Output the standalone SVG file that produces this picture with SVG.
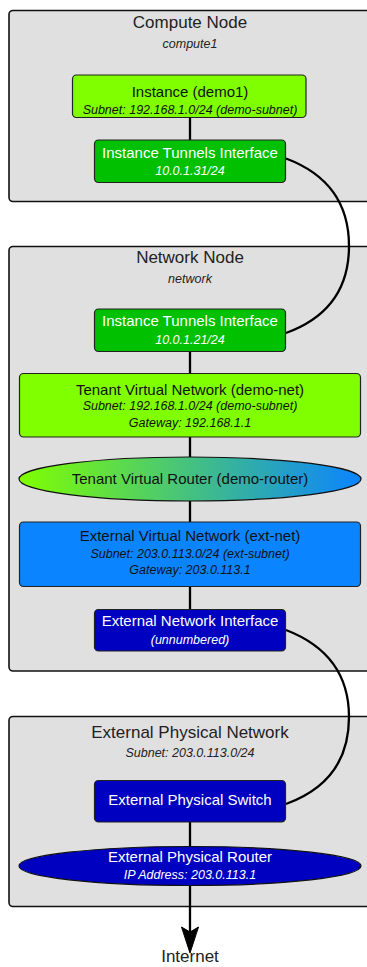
<svg xmlns="http://www.w3.org/2000/svg" width="367" height="967" viewBox="0 0 367 967">
  <defs>
    <linearGradient id="routerGrad" x1="0" y1="0" x2="1" y2="0">
      <stop offset="0" stop-color="#7fff00"/>
      <stop offset="1" stop-color="#0a84ff"/>
    </linearGradient>
    <style>
      .cluster { fill: #e0e0e0; stroke: #111; stroke-width: 1.6; }
      .box { stroke: #222; stroke-width: 1.2; }
      .lime { fill: #7fff00; }
      .green { fill: #00c000; }
      .sky { fill: #0a84ff; }
      .navy { fill: #0000c0; }
      .edge { fill: none; stroke: #000; stroke-width: 2.3; }
      text { font-family: "Liberation Sans", Arial, sans-serif; text-anchor: middle; }
      .title { font-size: 17px; fill: #222; }
      .sub { font-size: 12.5px; font-style: italic; fill: #222; }
      .lbl { font-size: 15px; fill: #111; }
      .sm { font-size: 12.5px; font-style: italic; fill: #111; }
      .w { fill: #fff; }
    </style>
  </defs>

  <!-- clusters -->
  <g id="cluster-compute">
    <rect class="cluster" x="9" y="10.5" width="372" height="191" rx="4"/>
    <text class="title" x="190" y="27.8">Compute Node</text>
    <text class="sub" x="190" y="47.8">compute1</text>
  </g>
  <g id="cluster-network">
    <rect class="cluster" x="9" y="246.5" width="372" height="424.5" rx="4"/>
    <text class="title" x="190" y="262.8">Network Node</text>
    <text class="sub" x="190" y="282.8">network</text>
  </g>
  <g id="cluster-external">
    <rect class="cluster" x="9" y="716.5" width="372" height="190" rx="4"/>
    <text class="title" x="190" y="737.8">External Physical Network</text>
    <text class="sub" x="190" y="756.8">Subnet: 203.0.113.0/24</text>
  </g>

  <!-- connectors -->
  <g id="connectors">
    <path class="edge" d="M190,117 V140"/>
    <path class="edge" d="M286,158.5 C330,175 349,205 349,246 C349,287 330,317 286,333"/>
    <path class="edge" d="M190,351 V373"/>
    <path class="edge" d="M190,437 V457"/>
    <path class="edge" d="M190,501 V522"/>
    <path class="edge" d="M190,587 V609"/>
    <path class="edge" d="M286,630 C330,647 349,677 349,717 C349,758 330,788 286,804"/>
    <path class="edge" d="M190,822 V847"/>
    <path class="edge" d="M190,885 V932"/>
    <polygon points="181.5,927 190,953 198.5,927 190,932" fill="#000" stroke="#000" stroke-width="1"/>
  </g>

  <!-- nodes -->
  <g id="instance">
    <rect class="box lime" x="72.5" y="75" width="233.5" height="42.5" rx="4"/>
    <text class="lbl" x="190" y="97">Instance (demo1)</text>
    <text class="sm" x="190" y="113.5">Subnet: 192.168.1.0/24 (demo-subnet)</text>
  </g>
  <g id="compute-tunnel">
    <rect class="box green" x="94.5" y="140" width="191" height="42.5" rx="4"/>
    <text class="lbl w" x="190" y="158">Instance Tunnels Interface</text>
    <text class="sm w" x="190" y="174.5">10.0.1.31/24</text>
  </g>
  <g id="network-tunnel">
    <rect class="box green" x="94.5" y="309" width="191" height="42.5" rx="4"/>
    <text class="lbl w" x="190" y="326.3">Instance Tunnels Interface</text>
    <text class="sm w" x="190" y="343.5">10.0.1.21/24</text>
  </g>
  <g id="tenant-net">
    <rect class="box lime" x="19.5" y="373.5" width="341" height="63.5" rx="4"/>
    <text class="lbl" x="190" y="394.6">Tenant Virtual Network (demo-net)</text>
    <text class="sm" x="190" y="410.2">Subnet: 192.168.1.0/24 (demo-subnet)</text>
    <text class="sm" x="190" y="426.8">Gateway: 192.168.1.1</text>
  </g>
  <g id="tenant-router">
    <ellipse cx="190" cy="479" rx="171" ry="22" fill="url(#routerGrad)" stroke="#111" stroke-width="1.2"/>
    <text class="lbl" x="190" y="484.3">Tenant Virtual Router (demo-router)</text>
  </g>
  <g id="ext-net">
    <rect class="box sky" x="19.5" y="522" width="341" height="64.5" rx="4"/>
    <text class="lbl" x="190" y="541.3">External Virtual Network (ext-net)</text>
    <text class="sm" x="190" y="557.8">Subnet: 203.0.113.0/24 (ext-subnet)</text>
    <text class="sm" x="190" y="573.5">Gateway: 203.0.113.1</text>
  </g>
  <g id="ext-iface">
    <rect class="box navy" x="94.5" y="609.5" width="191" height="41.5" rx="4"/>
    <text class="lbl w" x="190" y="626.3">External Network Interface</text>
    <text class="sm w" x="190" y="643.8">(unnumbered)</text>
  </g>
  <g id="ext-switch">
    <rect class="box navy" x="94.5" y="780.5" width="191" height="41.5" rx="4"/>
    <text class="lbl w" x="190" y="805.3">External Physical Switch</text>
  </g>
  <g id="ext-router">
    <ellipse cx="190" cy="866" rx="171" ry="19.5" fill="#0000c0" stroke="#111" stroke-width="1.2"/>
    <text class="lbl w" x="190" y="862">External Physical Router</text>
    <text class="sm w" x="190" y="878.8">IP Address: 203.0.113.1</text>
  </g>
  <g id="internet">
    <text class="title" x="190" y="962" fill="#111">Internet</text>
  </g>
</svg>
